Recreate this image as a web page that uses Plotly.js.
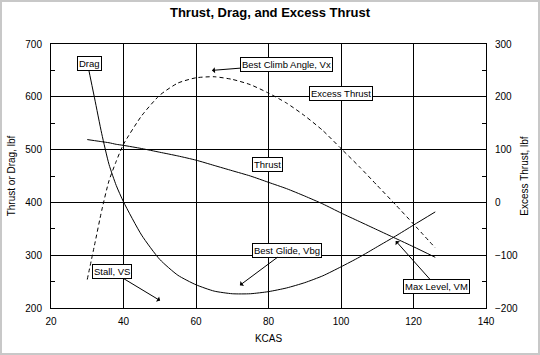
<!DOCTYPE html>
<html>
<head>
<meta charset="utf-8">
<script src="https://cdn.plot.ly/plotly-3.0.1.min.js"></script>
<style>
html,body{margin:0;padding:0;background:#fff;}
#wrap{position:relative;width:540px;height:355px;}
#chart{width:540px;height:355px;}
#frame{position:absolute;left:0;top:0;width:540px;height:355px;box-sizing:border-box;border:2px solid #c8c8c8;pointer-events:none;}
</style>
</head>
<body>
<div id="wrap"><div id="chart"></div><div id="frame"></div></div>
<script>
// Airspeed, KCAS
const kcas = [30, 32, 34, 36, 38, 40, 45, 50, 55, 60, 65, 70, 75, 80, 85, 90, 95, 100, 105, 110, 115, 120, 126];
// Drag, lbf (left axis)
const drag = [665, 598, 530, 472, 432, 401, 338, 292, 262, 244, 232, 227, 227, 231, 238, 248, 261, 278, 296, 316, 336, 357, 382];
// Thrust, lbf (left axis)
const thrust = [519, 517, 515, 513, 510, 508, 502, 495, 488, 480, 470, 460, 450, 438, 426, 412, 397, 380, 364, 348, 332, 316, 296];
// Excess thrust, lbf (right axis)
const excess = [-146, -81, -15, 41, 78, 110, 164, 203, 226, 236, 238, 233, 223, 207, 188, 164, 136, 102, 68, 32, -4, -41, -86];

const titleText = 'Thrust, Drag, and Excess Thrust';
const xTitle = 'KCAS';
const yTitle = 'Thrust or Drag, lbf';
const y2Title = 'Excess Thrust, lbf';

const FONT = 'Liberation Sans, Arial, sans-serif';

const traces = [
  {x: kcas, y: drag, type: 'scatter', mode: 'lines', name: 'Drag',
   line: {color: '#000', width: 1, shape: 'spline', smoothing: 0.6}},
  {x: kcas, y: thrust, type: 'scatter', mode: 'lines', name: 'Thrust',
   line: {color: '#000', width: 1, shape: 'spline', smoothing: 0.6}},
  {x: kcas, y: excess, type: 'scatter', mode: 'lines', name: 'Excess Thrust', yaxis: 'y2',
   line: {color: '#000', width: 1, dash: '4px,3px', shape: 'spline', smoothing: 0.6}}
];

const boxAnn = {bgcolor: '#fff', bordercolor: '#000', borderwidth: 1, borderpad: 1,
  font: {family: FONT, size: 9.5, color: '#000'}, xref: 'x', yref: 'y'};
const arrowOpts = {showarrow: true, arrowhead: 1, arrowsize: 1, arrowwidth: 1, arrowcolor: '#000'};

const annotations = [
  Object.assign({}, boxAnn, {text: 'Drag', x: 30.6, y: 663, showarrow: false}),
  Object.assign({}, boxAnn, {text: 'Excess Thrust', x: 99.9, y: 606, showarrow: false}),
  Object.assign({}, boxAnn, {text: 'Thrust', x: 79.7, y: 472, showarrow: false}),
  Object.assign({}, boxAnn, arrowOpts, {text: 'Best Climb Angle, Vx', x: 64.4, y: 650, ax: 75, ay: -6}),
  Object.assign({}, boxAnn, arrowOpts, {text: 'Stall, VS', x: 50.1, y: 214, ax: -48, ay: -29}),
  Object.assign({}, boxAnn, arrowOpts, {text: 'Best Glide, Vbg', x: 72.1, y: 243, ax: 47, ay: -35}),
  Object.assign({}, boxAnn, arrowOpts, {text: 'Max Level, VM', x: 115.1, y: 327, ax: 41, ay: 46})
];

const layout = {
  width: 540, height: 355,
  margin: {l: 51, r: 54, t: 44, b: 47},
  paper_bgcolor: '#fff', plot_bgcolor: '#fff',
  showlegend: false,
  font: {family: FONT, size: 10, color: '#000'},
  title: {text: titleText, font: {family: FONT, size: 13, weight: 'bold', color: '#000'},
    x: 0.5, xanchor: 'center', yref: 'container', y: 0.966, yanchor: 'middle'},
  xaxis: {range: [20, 140], dtick: 20, tick0: 20, showgrid: true, gridcolor: '#000', gridwidth: 1,
    showline: true, linecolor: '#000', linewidth: 1, mirror: true, zeroline: false, ticks: '',
    tickfont: {size: 10}, ticklabelstandoff: 4,
    title: {text: xTitle, font: {size: 10}, standoff: 8}, automargin: false},
  yaxis: {range: [200, 700], dtick: 100, tick0: 200, showgrid: true, gridcolor: '#000', gridwidth: 1,
    showline: true, linecolor: '#000', linewidth: 1, mirror: true, zeroline: false, ticks: '',
    tickfont: {size: 10}, ticklabelstandoff: 6,
    minor: {dtick: 50, ticks: 'inside', ticklen: 4, tickcolor: '#000', showgrid: false},
    title: {text: yTitle, font: {size: 10}, standoff: 7}, automargin: false},
  yaxis2: {range: [-200, 300], dtick: 100, tick0: -200, overlaying: 'y', side: 'right',
    showgrid: false, zeroline: false, showline: true, linecolor: '#000', linewidth: 1, ticks: '',
    tickfont: {size: 10}, ticklabelstandoff: 6,
    minor: {dtick: 50, ticks: 'inside', ticklen: 4, tickcolor: '#000', showgrid: false},
    title: {text: y2Title, font: {size: 10}, standoff: 4}, automargin: false},
  annotations: annotations
};

Plotly.newPlot('chart', traces, layout, {displayModeBar: false, staticPlot: true});
</script>
</body>
</html>
